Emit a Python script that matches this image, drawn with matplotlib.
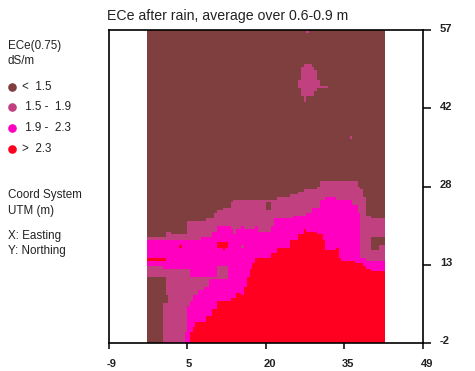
import matplotlib
matplotlib.use("Agg")
import matplotlib.pyplot as plt
import numpy as np
from matplotlib.colors import ListedColormap
from matplotlib.transforms import ScaledTranslation

plt.rcParams["font.family"] = ["Liberation Sans", "DejaVu Sans"]

# class limits along easting (step = value holds until next x)
mauve_x = [-2, 1.5, 2.5, 5.5, 9, 10.5, 11, 12, 13.5, 14, 22, 24.5, 26, 27, 29.5, 30, 37, 37.5, 38, 38.5, 39.5]
mauve_top = [18, 19, 18.5, 21, 21.5, 22.5, 23, 23.5, 24.5, 25, 25.5, 26, 26.5, 27, 27.5, 28.5, 27.5, 27, 25.5, 22, 21.5]

magenta_x = [-2, 8, 10, 11, 13.5, 14, 14.5, 15.5, 16, 18, 18.5, 21, 21.5, 25, 27.5, 28.5, 30, 31, 33, 36, 37, 37.5, 38.5]
magenta_top = [17.5, 18, 19, 20, 19.5, 18.5, 19.5, 20, 19.5, 20, 19, 20, 21.5, 22, 22.5, 23.5, 25, 25.5, 25, 24, 22.5, 14, 13.5]

red_x = [-2, 6, 6.5, 7, 9, 10, 11, 13.5, 14.5, 15.5, 16, 16.5, 17, 17.5, 18, 21, 22, 24.5, 26, 27, 27.5, 29.5, 30.5, 31, 33, 33.5, 34, 36.5, 38, 38.5, 39.5]
red_top = [-2, 0, 1, 2, 3, 4.5, 6, 6.5, 7.5, 7, 8.5, 10.5, 12, 13, 14, 15, 16, 17.5, 18.5, 19.5, 19, 18.5, 17.5, 15.5, 16, 14, 13.5, 13, 12.5, 12, 11.5]

# lower left mauve wedge under the magenta band
wedge_x = [-2, 1, 5, 5.5, 6, 6.5, 7.5, 8.5, 9.5, 11, 13]
wedge_top = [12.5, 12, 12, 12, 10.5, 10.5, 10.5, 10.5, 10.5, 12.5, -2]
wedge_low = [-2, -2, 0, 5, 6, 7, 8, 8.5, 10, 10, -2]

# brown strip in the lower left corner
brown_x = [-2, 1, 1.5, 2]
brown_top = [10.5, 10.5, 7, -2]
brown_low = [-2, 5.5, 5.5, -2]

# small patches: x0, x1, y0, y1
mauve_patches = [
    (27, 28.5, 50, 50.5), (26.5, 29, 49.5, 50), (26.5, 29.5, 47.5, 49.5),
    (26, 30, 46.5, 47.5), (26, 31.5, 46, 46.5), (26.5, 29.5, 45.5, 46),
    (26.5, 29, 44.5, 45.5), (27, 27.5, 43.5, 44.5),
    (35.5, 36, 36.5, 37), (27.5, 28, 56.5, 57), (15.5, 16, 16, 16.5),
]
brown_patches = [(20, 21, 23, 24.5), (39.5, 42, 16.5, 18), (39.5, 41, 15.5, 16.5)]
red_patches = [(4, 4.5, 16, 16.5), (-2, 1.5, 13.5, 14), (11, 13, 16, 17), (12, 12.5, 15.5, 16)]

x_ticks = [-9, 5.5, 20, 34.5, 49]
x_labels = ["-9", "5", "20", "35", "49"]
y_ticks = [-2, 12.75, 27.5, 42.25, 57]
y_labels = ["-2", "13", "28", "42", "57"]

class_colors = ["#7f3f3f", "#c04080", "#ff00c0", "#ff0020"]
class_labels = ["<  1.5", " 1.5 -  1.9", " 1.9 -  2.3", ">  2.3"]


def steps(xs, ys, centers):
    return np.asarray(ys, dtype=float)[np.searchsorted(xs, centers, side="right") - 1]


def paint(grid, cx, cy, patches, value):
    for x0, x1, y0, y1 in patches:
        grid[np.ix_((cy > y0) & (cy < y1), (cx > x0) & (cx < x1))] = value


def build_grid(x_edges, y_edges):
    cx = (x_edges[:-1] + x_edges[1:]) / 2
    cy = (y_edges[:-1] + y_edges[1:]) / 2
    xx, yy = np.meshgrid(cx, cy)
    grid = np.zeros(xx.shape, dtype=int)
    grid[yy < steps(mauve_x, mauve_top, xx)] = 1
    grid[yy < steps(magenta_x, magenta_top, xx)] = 2
    grid[(yy < steps(wedge_x, wedge_top, xx)) & (yy > steps(wedge_x, wedge_low, xx))] = 1
    grid[(yy < steps(brown_x, brown_top, xx)) & (yy > steps(brown_x, brown_low, xx))] = 0
    grid[yy < steps(red_x, red_top, xx)] = 3
    paint(grid, cx, cy, mauve_patches, 1)
    paint(grid, cx, cy, brown_patches, 0)
    paint(grid, cx, cy, red_patches, 3)
    return grid


def main():
    fig = plt.figure(figsize=(4.75, 3.71), dpi=100)
    ax = fig.add_axes([109 / 475, 1 - 343 / 371, 313.5 / 475, 313 / 371])

    x_edges = np.arange(-2, 42.25, 0.5)
    y_edges = np.arange(-2, 57.25, 0.5)
    ax.pcolormesh(x_edges, y_edges, build_grid(x_edges, y_edges),
                  cmap=ListedColormap(class_colors), vmin=-0.5, vmax=3.5, rasterized=True)

    ax.set_xlim(-9, 49)
    ax.set_ylim(-2, 57)
    ax.set_xticks(x_ticks, x_labels)
    ax.set_yticks(y_ticks, y_labels)
    ax.yaxis.tick_right()
    ax.tick_params(axis="x", length=4.5, width=1.1, pad=7, labelsize=8, labelcolor="#222222")
    ax.tick_params(axis="y", length=5.5, width=1.1, pad=7, labelsize=8, labelcolor="#222222")
    for spine in ax.spines.values():
        spine.set_linewidth(1.2)
    # labels sit left aligned on the x ticks and a bit above the y ticks
    for label in ax.get_xticklabels():
        label.set_fontweight("bold")
        label.set_ha("left")
        label.set_transform(label.get_transform() + ScaledTranslation(-0.02, 0, fig.dpi_scale_trans))
    for label in ax.get_yticklabels():
        label.set_fontweight("bold")
        label.set_transform(label.get_transform() + ScaledTranslation(0, 0.025, fig.dpi_scale_trans))

    def put(px, py, text, **kwargs):
        fig.text(px / 475, 1 - py / 371, text, va="center", ha="left", color="#222222",
                 fontsize=kwargs.pop("fontsize", 8.4), **kwargs)

    put(107, 16, "ECe after rain, average over 0.6-0.9 m", fontsize=10.2)
    put(8, 46, "ECe(0.75)")
    put(8, 61, "dS/m")
    for py, color, label in zip([87, 107, 128, 149], class_colors, class_labels):
        fig.add_artist(plt.Line2D([12 / 475], [1 - py / 371], marker="o", ms=6.2, mew=0, color=color,
                                  transform=fig.transFigure))
        put(22, py, label)
    put(8, 195, "Coord System")
    put(8, 211, "UTM (m)")
    put(8, 236, "X: Easting")
    put(8, 251, "Y: Northing")

    fig.savefig("out.png", dpi=100)
    plt.close(fig)


if __name__ == "__main__":
    main()
